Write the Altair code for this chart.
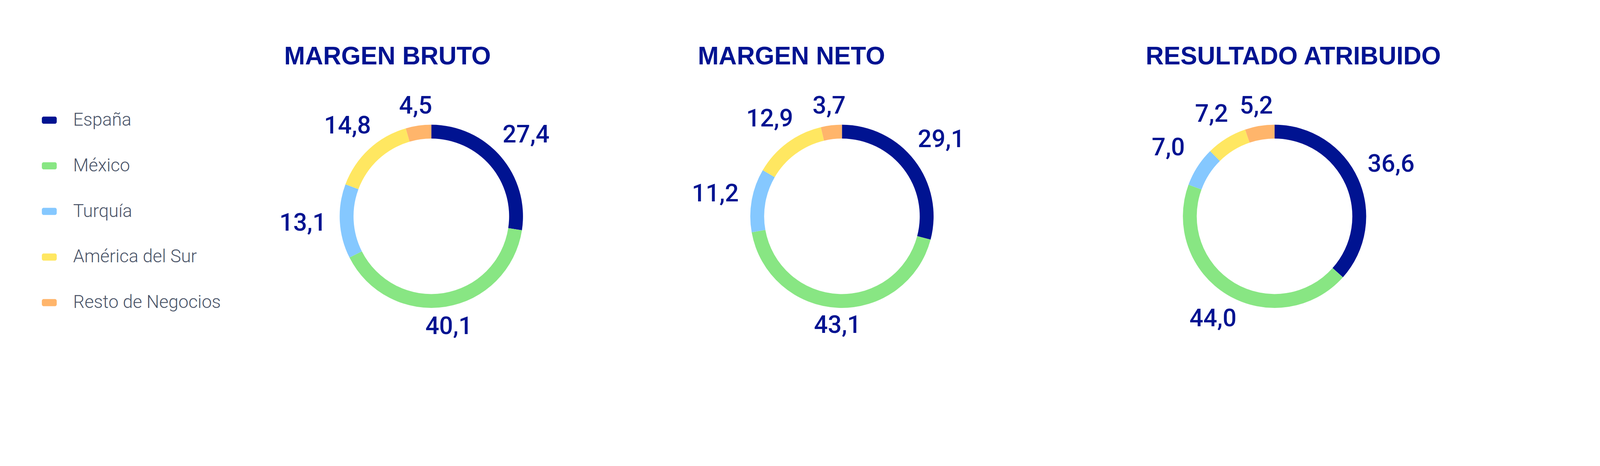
import altair as alt
import pandas as pd

# ---- data -------------------------------------------------------------
categories = ["España", "México", "Turquía", "América del Sur", "Resto de Negocios"]
colors = ["#001391", "#88E683", "#85C8FF", "#FFE761", "#FFB56B"]

margen_bruto = [27.4, 40.1, 13.1, 14.8, 4.5]
margen_neto = [29.1, 43.1, 11.2, 12.9, 3.7]
resultado_atribuido = [36.6, 44.0, 7.0, 7.2, 5.2]

titles = ["MARGEN BRUTO", "MARGEN NETO", "RESULTADO ATRIBUIDO"]

NAVY = "#001391"
PANEL_H = 900

# rounded-rectangle legend swatch (unit box -1..1)
PILL = ("M-0.75,-0.48 L0.75,-0.48 A0.25,0.25 0 0 1 1,-0.23 L1,0.23 "
        "A0.25,0.25 0 0 1 0.75,0.48 L-0.75,0.48 A0.25,0.25 0 0 1 -1,0.23 "
        "L-1,-0.23 A0.25,0.25 0 0 1 -0.75,-0.48 Z")

legend = alt.Legend(
    title=None,
    orient="none",
    legendX=-542,
    legendY=139,
    padding=0,
    symbolType=PILL,
    symbolSize=1936,
    symbolStrokeWidth=0,
    labelFont="Noto Sans Condensed, Roboto, sans-serif",
    labelFontSize=53,
    labelFontWeight=300,
    labelColor="#4A5468",
    labelOffset=44,
    labelLimit=2000,
    rowPadding=81,
)


def donut(values, title, width, title_dx):
    df = pd.DataFrame({"cat": categories, "idx": list(range(len(categories))), "v": values})
    base = alt.Chart(df)
    ring = base.mark_arc(innerRadius=230, outerRadius=271).encode(
        theta=alt.Theta("v:Q", stack=True),
        color=alt.Color("cat:N", scale=alt.Scale(domain=categories, range=colors), legend=legend),
        order=alt.Order("idx:Q"),
    )
    labels = (
        base.transform_window(cum="sum(v)", sort=[alt.SortField("idx", order="ascending")], frame=[None, 0])
        .transform_joinaggregate(total="sum(v)")
        .transform_calculate(a="2*PI*(datum.cum - datum.v/2)/datum.total")
        .transform_calculate(r="312 + 68*abs(sin(datum.a)) + 8*abs(cos(datum.a))")
        .transform_calculate(lbl="replace(format(datum.v, '.1f'), '.', ',')")
        .mark_text(font="Roboto", fontSize=72, fontWeight=500, color=NAVY,
                   align="center", baseline="middle")
        .encode(
            theta=alt.Theta("a:Q", scale=None, stack=None),
            radius=alt.Radius("r:Q", scale=None),
            text="lbl:N",
        )
    )
    return (
        alt.layer(ring, labels)
        .resolve_scale(theta="independent", radius="independent")
        .properties(
            width=width,
            height=PANEL_H,
            title=alt.TitleParams(
                title, anchor="start", frame="group", dx=title_dx, offset=-17,
                font="Liberation Sans", fontSize=74, fontWeight="bold", color=NAVY,
            ),
        )
    )


chart = (
    alt.hconcat(
        donut(margen_bruto, titles[0], 1228, 179),
        donut(margen_neto, titles[1], 1200, 174),
        donut(resultado_atribuido, titles[2], 1358, 298),
        spacing=0,
    )
    .properties(padding={"left": 110, "top": 44, "right": 274, "bottom": 16})
    .configure_view(stroke=None)
)

chart.save("out.html", embed_options={"renderer": "svg", "actions": False})
